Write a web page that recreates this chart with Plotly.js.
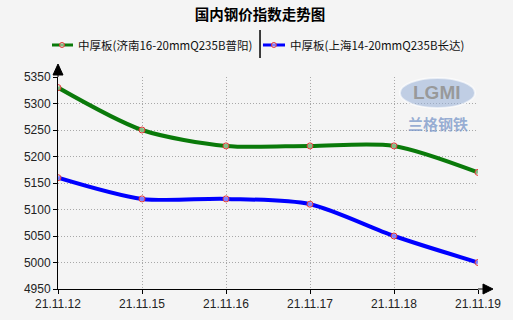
<!DOCTYPE html>
<html><head><meta charset="utf-8">
<script src="https://cdn.plot.ly/plotly-3.0.1.min.js"></script>
<style>html,body{margin:0;padding:0;background:#f4f4f4;}#chart{width:513px;height:320px;}</style>
</head><body><div id="chart"></div>
<script>
const dates = ["21.11.12","21.11.15","21.11.16","21.11.17","21.11.18","21.11.19"];
const jinanName = "中厚板(济南16-20mmQ235B普阳)";
const jinanValues = [5330, 5250, 5220, 5220, 5220, 5170];
const shanghaiName = "中厚板(上海14-20mmQ235B长达)";
const shanghaiValues = [5160, 5120, 5120, 5110, 5050, 5000];
const yTicks = [4950, 5000, 5050, 5100, 5150, 5200, 5250, 5300, 5350];
const colors = ['#0a7a0a', '#0000ff'];

const marker = {symbol:'circle', size:6, color:'rgba(255,255,255,0.5)', line:{color:'#e03535', width:1}};
const traces = [
  {x:dates, y:jinanValues, name:jinanName, type:'scatter', mode:'lines+markers',
   line:{color:colors[0], width:4, shape:'spline', smoothing:0.8}, marker:marker},
  {x:dates, y:shanghaiValues, name:shanghaiName, type:'scatter', mode:'lines+markers',
   line:{color:colors[1], width:4, shape:'spline', smoothing:0.8}, marker:marker}
];

function legendItem(xl, xr, xm, xt, color, name) {
  const shapes = [
    {type:'line', xref:'paper', yref:'paper', x0:xl, x1:xr, y0:1.151, y1:1.151, line:{color:color, width:3}},
    {type:'circle', xref:'paper', yref:'paper', xsizemode:'pixel', ysizemode:'pixel', xanchor:xm, yanchor:1.151,
     x0:-2.5, x1:2.5, y0:-2.5, y1:2.5, fillcolor:'rgba(255,255,255,0.5)', line:{color:'#e03535', width:1}}
  ];
  const ann = {xref:'paper', yref:'paper', x:xt, y:1.151, xanchor:'left', yanchor:'middle', showarrow:false,
    text:name, font:{family:'"Noto Sans CJK SC", sans-serif', size:11.5, color:'#111'}};
  return {shapes, ann};
}
const L1 = legendItem(-0.0143, 0.0357, 0.0095, 0.043, colors[0], jinanName);
const L2 = legendItem(0.488, 0.5405, 0.514, 0.547, colors[1], shanghaiName);

const layout = {
  width:513, height:320,
  paper_bgcolor:'#f4f4f4', plot_bgcolor:'#f4f4f4',
  margin:{l:58, r:35, t:77, b:31},
  font:{family:'"Liberation Sans", Arial, sans-serif', size:12, color:'#222'},
  title:{text:'<b>国内钢价指数走势图</b>', x:0.507, xanchor:'center', y:0.953, yanchor:'middle',
         font:{family:'"Noto Sans CJK SC", sans-serif', size:14.5, color:'#000'}},
  showlegend:false,
  xaxis:{type:'category', range:[0,5], showgrid:true, gridcolor:'#a8a8a8', griddash:'1px,2px', gridwidth:1,
         showline:true, linecolor:'#000', linewidth:1, ticks:'outside', ticklen:4, tickcolor:'#000',
         zeroline:false, tickfont:{size:12, color:'#222'}, fixedrange:true},
  yaxis:{range:[4950,5350], tickvals:yTicks, showgrid:true, gridcolor:'#a8a8a8', griddash:'1px,2px', gridwidth:1,
         showline:true, linecolor:'#000', linewidth:1, ticks:'outside', ticklen:4, tickcolor:'#000',
         zeroline:false, tickfont:{size:12, color:'#222'}, ticklabelstandoff:0, fixedrange:true},
  shapes:[
    {type:'path', xref:'paper', yref:'paper', xsizemode:'pixel', ysizemode:'pixel', xanchor:0, yanchor:1,
     path:'M 0 0 L 0 2 M -5 2 L 5 2 L 0 13 Z', fillcolor:'#000', line:{color:'#000', width:1}},
    {type:'path', xref:'paper', yref:'paper', xsizemode:'pixel', ysizemode:'pixel', xanchor:1, yanchor:0,
     path:'M 0 0 L 5 0 M 5 -5 L 5 5 L 15 0 Z', fillcolor:'#000', line:{color:'#000', width:1}},
    {type:'line', xref:'paper', yref:'paper', x0:0.481, x1:0.481, y0:1.0896, y1:1.2217, line:{color:'#000', width:1.5}},
    {type:'circle', xref:'paper', yref:'paper', x0:0.814, x1:0.993, y0:0.854, y1:0.995,
     fillcolor:'rgba(150,175,215,0.55)', line:{color:'rgba(255,255,255,0.6)', width:2}},
    ...L1.shapes, ...L2.shapes
  ],
  annotations:[
    {xref:'paper', yref:'paper', x:0.903, y:0.925, xanchor:'center', yanchor:'middle', text:'<b>LGMI</b>', showarrow:false,
     font:{family:'"Liberation Sans", Arial, sans-serif', size:19, color:'rgba(150,150,150,0.95)'}},
    {xref:'paper', yref:'paper', x:0.905, y:0.783, xanchor:'center', yanchor:'middle', text:'<b>兰格钢铁</b>', showarrow:false,
     font:{family:'"Noto Sans CJK SC", sans-serif', size:15, color:'rgba(120,150,200,0.75)'}},
    L1.ann, L2.ann
  ]
};
Plotly.newPlot('chart', traces, layout, {staticPlot:true, displayModeBar:false});
</script></body></html>
